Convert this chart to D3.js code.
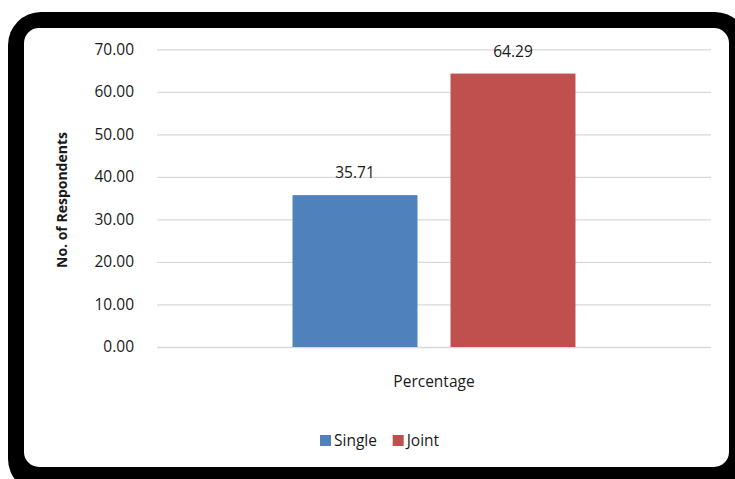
<!DOCTYPE html>
<html>
<head>
<meta charset="utf-8">
<script src="https://cdn.jsdelivr.net/npm/d3@7"></script>
<style>
  html, body { margin: 0; padding: 0; background: #fff; }
  svg { display: block; }
  text { font-family: "Open Sans", sans-serif; fill: #1a1a1a; }
</style>
</head>
<body>
<svg id="chart" width="735" height="479"></svg>
<script>
// Household type of respondents (percentage)
const category = ["Percentage"];
const seriesNames = ["Single", "Joint"];
const seriesValues = [35.71, 64.29];
const seriesColors = ["#4F81BD", "#C0504D"];
const yTicks = [0, 10, 20, 30, 40, 50, 60, 70];

const svg = d3.select("#chart");

// Rounded black frame
svg.append("rect")
  .attr("x", 8).attr("y", 12)
  .attr("width", 740).attr("height", 480)
  .attr("rx", 33).attr("ry", 33)
  .attr("fill", "#000");
svg.append("rect")
  .attr("x", 24).attr("y", 28)
  .attr("width", 705).attr("height", 439)
  .attr("rx", 15).attr("ry", 15)
  .attr("fill", "#fff");

const plot = { left: 157, right: 711, top: 49.3, bottom: 347 };

const y = d3.scaleLinear().domain([0, 70]).range([plot.bottom, plot.top]);
const x0 = d3.scaleBand().domain(category).range([plot.left, plot.right]).paddingInner(0).paddingOuter(0.479);
const x1 = d3.scaleBand().domain(seriesNames).range([0, x0.bandwidth()]).paddingInner(0.209).paddingOuter(0);

// Gridlines
const grid = svg.append("g")
  .attr("transform", `translate(${plot.left},0)`)
  .call(d3.axisLeft(y).tickValues(yTicks).tickSize(-(plot.right - plot.left)).tickFormat(""));
grid.select(".domain").remove();
grid.selectAll(".tick line").attr("stroke", "#D9D9D9").attr("stroke-width", 1.3);

// Y tick labels
const yAxis = svg.append("g")
  .attr("transform", `translate(134,0)`)
  .call(d3.axisLeft(y).tickValues(yTicks).tickSize(0).tickPadding(0).tickFormat(d3.format(".2f")));
yAxis.select(".domain").remove();
yAxis.selectAll("text")
  .style("font-family", "'Open Sans', sans-serif")
  .style("font-size", "15.5px")
  .attr("fill", "#1a1a1a");

// Bars
const g = svg.append("g");
category.forEach(cat => {
  seriesNames.forEach((s, i) => {
    const bx = x0(cat) + x1(s);
    g.append("rect")
      .attr("x", bx)
      .attr("y", y(seriesValues[i]))
      .attr("width", x1.bandwidth())
      .attr("height", y(0) - y(seriesValues[i]))
      .attr("fill", seriesColors[i]);
    g.append("text")
      .attr("x", bx + x1.bandwidth() / 2)
      .attr("y", y(seriesValues[i]) - 17)
      .attr("text-anchor", "middle")
      .style("font-size", "15.5px")
      .text(d3.format(".2f")(seriesValues[i]));
  });
  // Category label
  svg.append("text")
    .attr("x", x0(cat) + x0.bandwidth() / 2)
    .attr("y", 386.5)
    .attr("text-anchor", "middle")
    .style("font-size", "15.5px")
    .text(cat);
});

// Y axis title
svg.append("text")
  .attr("transform", "translate(67,200) rotate(-90)")
  .attr("text-anchor", "middle")
  .style("font-size", "14px")
  .style("font-weight", "bold")
  .text("No. of Respondents");

// Legend
const legend = svg.append("g");
const legendX = [320, 392.7];
seriesNames.forEach((s, i) => {
  legend.append("rect")
    .attr("x", legendX[i]).attr("y", 435)
    .attr("width", 11).attr("height", 11)
    .attr("fill", seriesColors[i]);
  legend.append("text")
    .attr("x", legendX[i] + 14).attr("y", 446)
    .style("font-size", "15.5px")
    .text(s);
});
</script>
</body>
</html>
